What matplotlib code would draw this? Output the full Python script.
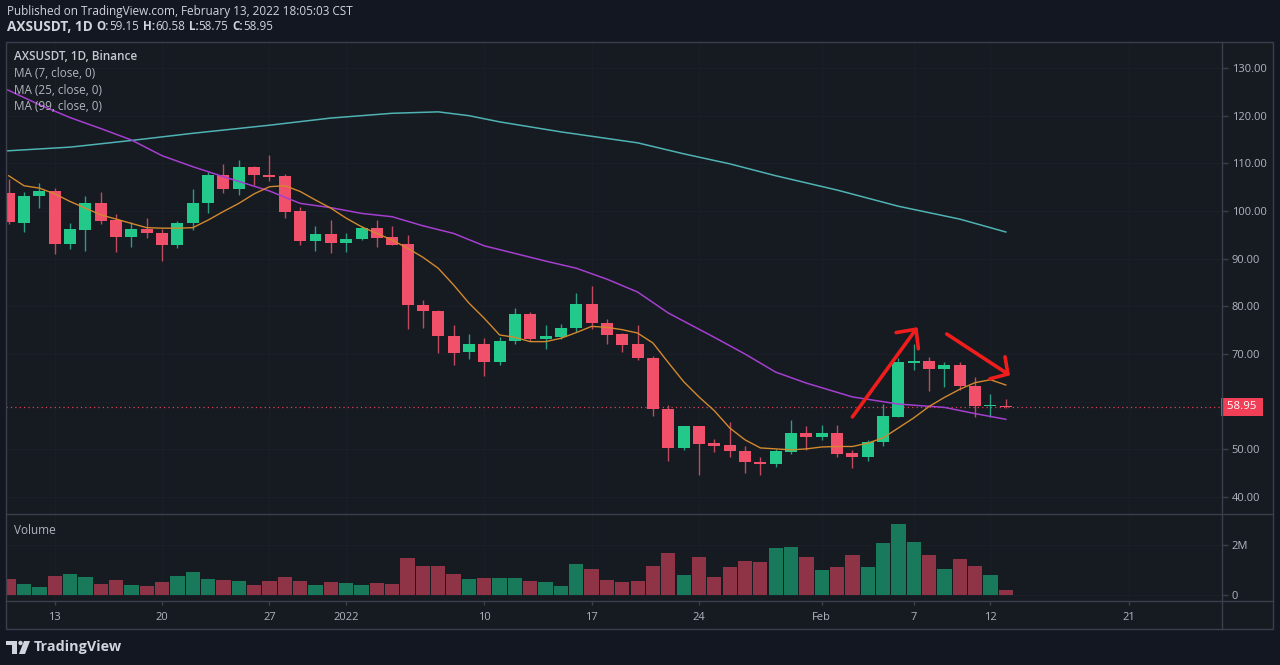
import numpy as np
import matplotlib.pyplot as plt
from matplotlib.patches import Rectangle, Circle, Polygon
from matplotlib.transforms import blended_transform_factory

plt.rcParams['font.family'] = ['Open Sans', 'DejaVu Sans']

W, H = 1280, 665

# daily candles, day 0 = 10 Dec 2021 ... day 65 = 13 Feb 2022
opens = [103.7, 97.4, 103.2, 104.2, 93.0, 96.0, 101.6, 98.1, 94.5, 96.3,
         95.3, 92.8, 97.4, 101.6, 107.5, 104.7, 109.2, 107.6, 107.4, 100.0,
         93.7, 95.1, 93.2, 94.2, 96.5, 94.5, 93.0, 80.3, 79.1, 73.8,
         70.4, 72.1, 68.4, 72.8, 78.3, 73.2, 73.5, 75.4, 80.5, 76.6,
         74.1, 72.0, 69.1, 58.4, 50.3, 54.8, 51.3, 50.9, 49.6, 47.4,
         46.9, 49.4, 53.4, 52.5, 53.5, 49.2, 48.4, 51.5, 56.8, 68.2,
         68.6, 66.8, 67.7, 63.3, 59.1, 59.15]
highs = [106.7, 104.0, 105.8, 104.9, 97.5, 103.2, 104.0, 99.4, 97.6, 98.6,
         96.3, 97.9, 104.6, 108.1, 109.8, 110.7, 109.4, 111.8, 107.8, 100.9,
         96.9, 98.1, 95.4, 96.9, 98.1, 96.9, 95.0, 81.4, 79.3, 76.0,
         74.2, 73.3, 73.5, 79.6, 78.8, 76.0, 76.3, 82.8, 84.2, 77.3,
         74.4, 76.1, 69.5, 59.3, 55.0, 55.0, 52.2, 55.7, 50.6, 48.4,
         50.1, 56.2, 54.8, 55.1, 55.1, 49.8, 51.9, 59.5, 69.1, 72.1,
         69.4, 68.4, 68.4, 65.1, 61.7, 60.58]
lows = [97.2, 95.5, 100.6, 91.0, 92.0, 91.7, 97.3, 91.4, 92.5, 94.4,
        89.5, 92.2, 96.0, 99.5, 103.7, 103.4, 105.4, 106.3, 98.6, 92.8,
        91.7, 91.1, 91.4, 93.9, 92.4, 92.8, 75.3, 75.4, 70.3, 67.7,
        69.0, 65.3, 67.6, 72.2, 72.8, 71.0, 73.1, 74.7, 75.3, 72.1,
        70.5, 68.8, 57.1, 47.6, 49.9, 44.6, 49.4, 48.5, 45.0, 44.7,
        46.3, 49.1, 49.8, 52.0, 48.4, 46.1, 47.5, 50.8, 56.8, 66.7,
        62.2, 63.1, 62.5, 56.8, 56.8, 58.75]
closes = [97.7, 103.2, 104.3, 93.0, 96.2, 101.6, 97.9, 94.5, 96.2, 95.3,
          92.8, 97.4, 101.6, 107.5, 104.7, 109.3, 107.5, 107.1, 99.8, 93.7,
          95.1, 93.3, 94.2, 96.5, 94.4, 92.9, 80.2, 79.1, 73.8, 70.3,
          72.1, 68.4, 72.8, 78.3, 73.1, 73.8, 75.5, 80.5, 76.5, 73.9,
          71.9, 69.2, 58.4, 50.3, 54.8, 51.2, 50.8, 49.6, 47.3, 46.9,
          49.6, 53.4, 52.5, 53.5, 49.1, 48.4, 51.5, 56.9, 68.4, 68.6,
          66.8, 67.7, 63.3, 59.1, 59.15, 58.95]
volume_m = [0.64, 0.44, 0.33, 0.76, 0.84, 0.71, 0.44, 0.60, 0.40, 0.37,
            0.52, 0.77, 0.91, 0.64, 0.60, 0.57, 0.39, 0.55, 0.73, 0.55,
            0.40, 0.51, 0.49, 0.40, 0.48, 0.44, 1.47, 1.16, 1.16, 0.83,
            0.64, 0.68, 0.69, 0.68, 0.57, 0.51, 0.35, 1.23, 1.04, 0.60,
            0.51, 0.56, 1.16, 1.69, 0.79, 1.53, 0.72, 1.11, 1.36, 1.31,
            1.88, 1.92, 1.53, 0.99, 1.13, 1.61, 1.12, 2.08, 2.84, 2.13,
            1.60, 1.04, 1.44, 1.15, 0.81, 0.20]

# moving averages
ma7 = [107.4, 105.3, 104.8, 103.6, 102.0, 100.6, 99.2, 98.3, 97.4, 96.5,
       96.4, 96.4, 96.5, 98.1, 99.9, 101.6, 103.6, 105.1, 105.3, 104.1,
       102.3, 100.6, 98.5, 96.7, 95.3, 93.9, 92.2, 90.3, 88.0, 84.5,
       80.7, 77.5, 74.0, 73.5, 72.6, 72.6, 73.3, 74.5, 75.8, 75.6,
       75.1, 74.4, 72.3, 68.2, 64.2, 61.0, 58.1, 54.5, 52.0, 50.3,
       50.1, 49.9, 50.1, 50.5, 50.6, 50.6, 51.3, 52.4, 54.5, 56.6,
       59.0, 60.9, 62.6, 64.0, 64.6, 63.5]
ma25_days = [-0.2, 2, 4, 6, 8, 10, 12, 14, 17, 19, 21, 23, 25, 27, 29, 31,
             33, 35, 37, 39, 41, 43, 46, 48, 50, 52, 55, 58, 61, 63, 65]
ma25 = [125.6, 122.3, 119.6, 117.3, 114.9, 111.6, 109.3, 107.2, 104.2, 101.6,
        100.7, 99.5, 98.8, 96.9, 95.3, 92.7, 91.1, 89.5, 88.0, 85.7,
        83.0, 78.6, 73.5, 70.0, 66.2, 63.9, 61.0, 59.5, 58.8, 57.5, 56.3]
ma99_days = [-0.2, 4, 8, 12, 17, 21, 25, 28, 30, 32, 36, 41, 44, 47, 50, 54,
             58, 62, 65]
ma99 = [112.6, 113.4, 114.8, 116.3, 118.0, 119.5, 120.5, 120.8, 120.0, 118.7,
        116.6, 114.3, 112.0, 109.9, 107.4, 104.4, 101.0, 98.3, 95.6]

date_ticks = [3, 10, 17, 22, 31, 38, 45, 53, 59, 64, 73]
date_labels = ['13', '20', '27', '2022', '10', '17', '24', 'Feb', '7', '12', '21']
price_ticks = [40, 50, 60, 70, 80, 90, 100, 110, 120, 130]

# hand drawn red arrows (day, price)
arrow1_shaft = [(55.0, 56.8), (59.15, 75.2)]
arrow1_head = [(57.85, 74.5), (59.15, 75.2), (59.3, 71.1)]
arrow2_shaft = [(61.15, 74.2), (65.14, 65.8)]
arrow2_head = [(64.95, 69.4), (65.14, 65.8), (63.97, 64.8)]

BG = '#131722'
PANE = '#161a21'
LINE = '#3b3f4b'
GRID = '#1a1e26'
TXT = '#b2b5be'
UP, DN = '#22c98b', '#f0506a'
UP_W, DN_W = '#2a9d82', '#c04a5e'
VUP, VDN = '#187a5a', '#8e3446'

days = np.arange(len(opens))
o = np.array(opens)
c = np.array(closes)
up = c >= o

fig = plt.figure(figsize=(12.8, 6.65), dpi=100, facecolor=BG)


def px_axes(x0, y0, x1, y1, **kw):
    return fig.add_axes([x0 / W, 1 - y1 / H, (x1 - x0) / W, (y1 - y0) / H], **kw)


back = px_axes(0, 0, W, H, zorder=0)
back.set_xlim(0, W)
back.set_ylim(H, 0)
back.axis('off')
back.add_patch(Rectangle((6, 41.5), 1267, 587.5, fc=PANE, ec='none'))

ax = px_axes(6, 41.5, 1222, 514, zorder=1)
axv = px_axes(6, 514, 1222, 601, zorder=1)

x_left = -2.7 / 15.34
x_right = x_left + 1216 / 15.34
for a in (ax, axv):
    a.set_facecolor(PANE)
    a.set_xlim(x_left, x_right)
    for s in a.spines.values():
        s.set_visible(False)
    a.yaxis.tick_right()
    a.set_xticks(date_ticks)
    a.grid(True, color=GRID, lw=1)
    a.set_axisbelow(True)

ax.set_ylim(130 - 446 / 4.767, 130 + 26.5 / 4.767)
axv.set_ylim(-0.24, 3.24)

# candles
ax.vlines(days, lows, highs, colors=np.where(up, UP_W, DN_W), lw=1, zorder=3)
ax.bar(days, np.maximum(np.abs(c - o), 0.25), bottom=np.minimum(o, c), width=0.78,
       color=np.where(up, UP, DN), lw=0, zorder=4)

ax.plot(ma99_days, ma99, color='#4fb3b3', lw=1.1, zorder=5)
ax.plot(ma25_days, ma25, color='#a53fd0', lw=1.1, zorder=5)
ax.plot(days, ma7, color='#d2892f', lw=1.0, zorder=5)

ax.axhline(closes[-1], color='#e0405a', lw=0.9, ls=(0, (1, 2.5)), zorder=2)

for pts in (arrow1_shaft, arrow1_head, arrow2_shaft, arrow2_head):
    xs, ys = zip(*pts)
    ax.plot(xs, ys, color='#f01d1d', lw=2.6, solid_capstyle='round',
            solid_joinstyle='round', zorder=6)

# the last-price tag hides the label it covers, as on TradingView
ax.set_yticks(price_ticks)
ax.set_yticklabels(['' if abs(p - closes[-1]) < 4 else f'{p:.2f}' for p in price_ticks])
ax.tick_params(axis='y', length=4, width=1, color=LINE, labelcolor=TXT,
               labelsize=8, pad=3)
ax.tick_params(axis='x', length=0, labelbottom=False)

tr = blended_transform_factory(ax.transAxes, ax.transData)
ax.text(1.0017, closes[-1], f' {closes[-1]:.2f} ', transform=tr, ha='left', va='center',
        color='white', fontsize=8.2, clip_on=False, zorder=7,
        bbox=dict(boxstyle='square,pad=0.3', fc='#f23f58', ec='none'))

# volume
axv.bar(days, volume_m, width=0.93, color=np.where(up, VUP, VDN), lw=0, zorder=3)
axv.set_yticks([0, 2])
axv.set_yticklabels(['0', '2M'])
axv.tick_params(axis='y', length=4, width=1, color=LINE, labelcolor=TXT,
                labelsize=8, pad=3)
axv.set_xticklabels(date_labels)
axv.tick_params(axis='x', length=3, width=1, color=LINE, labelcolor=TXT,
                labelsize=8, pad=5)

# frame and overlay
top = px_axes(0, 0, W, H, zorder=10)
top.set_xlim(0, W)
top.set_ylim(H, 0)
top.axis('off')
top.patch.set_alpha(0)
top.add_patch(Rectangle((6, 41.5), 1267, 587.5, fc='none', ec=LINE, lw=1))
top.plot([6, 1273], [514, 514], color=LINE, lw=1)
top.plot([6, 1273], [601, 601], color=LINE, lw=1)
top.plot([1222, 1222], [41.5, 629], color=LINE, lw=1)

# logo
LOGO = '#d1d4dc'
top.add_patch(Rectangle((6, 641), 11, 4, fc=LOGO, ec='none'))
top.add_patch(Rectangle((12, 641), 5, 13, fc=LOGO, ec='none'))
top.add_patch(Circle((20.5, 643), 2.2, fc=LOGO, ec='none'))
top.add_patch(Polygon([(24, 641), (30, 641), (25, 654), (19, 654)], fc=LOGO, ec='none'))
top.text(34, 647.5, 'TradingView', fontsize=10.4, fontweight='bold', color=LOGO,
         ha='left', va='center')

# header
fig.text(7 / W, 1 - 11 / H, 'Published on TradingView.com, February 13, 2022 18:05:03 CST',
         fontsize=8.45, color='#d1d4dc', va='center', ha='left')
pieces = [('AXSUSDT, 1D', 'bold', 0, 9.8),
          ('O:', 'bold', 4, 8.4), (f'{opens[-1]:.2f}', 'normal', 0, 8.4),
          ('H:', 'bold', 4, 8.4), (f'{highs[-1]:.2f}', 'normal', 0, 8.4),
          ('L:', 'bold', 4, 8.4), (f'{lows[-1]:.2f}', 'normal', 0, 8.4),
          ('C:', 'bold', 4, 8.4), (f'{closes[-1]:.2f}', 'normal', 0, 8.4)]
renderer = fig.canvas.get_renderer()
xpos = 7
for s, wt, gap, size in pieces:
    xpos += gap
    t = fig.text(xpos / W, 1 - 27 / H, s, fontsize=size, fontweight=wt, color='#d1d4dc',
                 va='center', ha='left')
    xpos += t.get_window_extent(renderer).width

# pane legends
fig.text(14 / W, 1 - 57 / H, 'AXSUSDT, 1D, Binance', fontsize=8.5, fontweight='semibold',
         color='#c5c8d0', va='center')
for i, s in enumerate(['MA (7, close, 0)', 'MA (25, close, 0)', 'MA (99, close, 0)']):
    fig.text(14 / W, 1 - (73.7 + 16.5 * i) / H, s, fontsize=8.5, color=TXT, va='center')
fig.text(14 / W, 1 - 531 / H, 'Volume', fontsize=8.5, color=TXT, va='center')

fig.savefig('out.png', dpi=100, facecolor=BG)
